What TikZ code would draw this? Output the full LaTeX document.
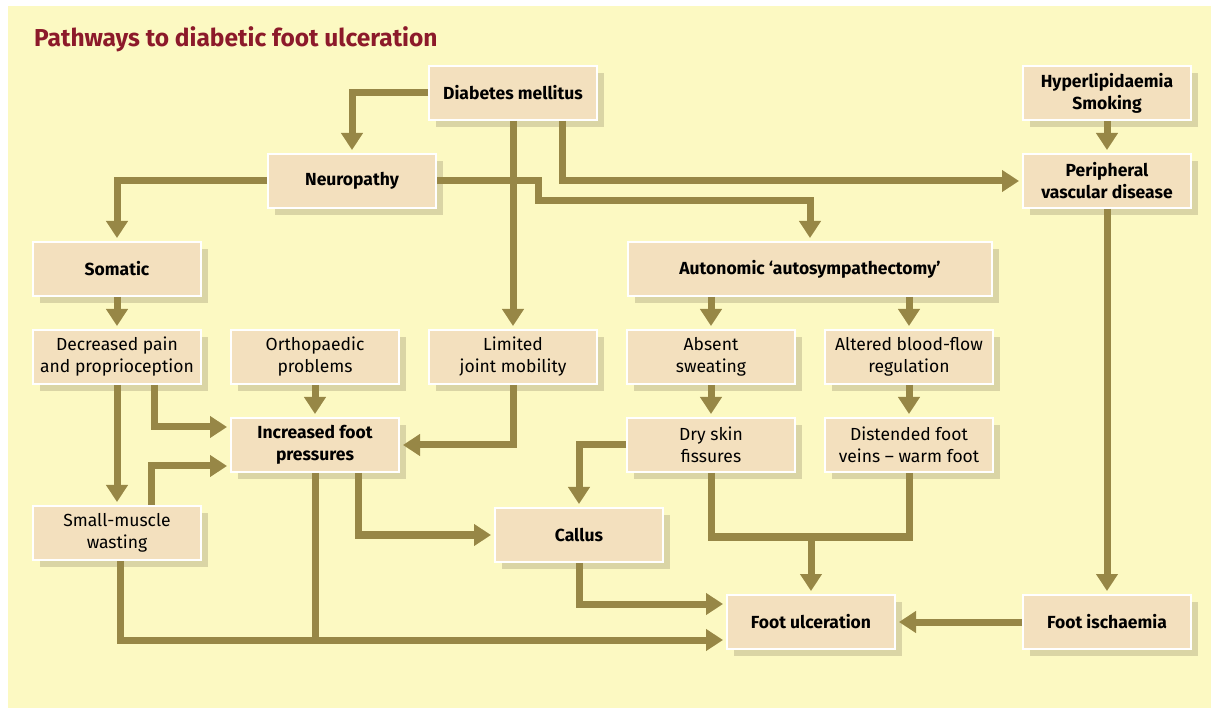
\documentclass[tikz,border=0pt]{standalone}
\usepackage{fontspec}
\setmainfont{Fira Sans}
\usepackage{xcolor}
\usepackage{tikz}
\usetikzlibrary{arrows.meta, positioning, calc, shadows}

\definecolor{bgyellow}{HTML}{FCF9C2}
\definecolor{boxtan}{HTML}{F3E0BE}
\definecolor{boxshadow}{HTML}{DAD5A5}
\definecolor{arrowolive}{HTML}{978746}
\definecolor{titlered}{HTML}{8C1A2A}

\newcommand\boxfont{\fontsize{17.5}{22}\selectfont}

\begin{document}
\begin{tikzpicture}[
    x=1pt, y=-1pt,
    node distance=32pt and 28pt,
    box/.style={rectangle, draw=white, line width=2pt, fill=boxtan, outer sep=1pt, minimum width=168pt, minimum height=54pt, inner sep=1pt, align=center, font=\boxfont, drop shadow={shadow xshift=7pt, shadow yshift=-7pt, fill=boxshadow, opacity=1}},
    keybox/.style={box, font=\boxfont\bfseries},
    link/.style={line width=7pt, draw=arrowolive},
    arrow/.style={link, -{Triangle[width=21pt, length=17pt]}, shorten >=3pt}
]

\useasboundingbox (0,0) rectangle (1211,708);
\fill[bgyellow] (8,6) rectangle (1211,708);

% Title
\node[anchor=base west, inner sep=0pt, text=titlered, font=\fontsize{24.5}{28}\selectfont\bfseries] (title) at (34,47) {Pathways to diabetic foot ulceration};

% Causes
\node[keybox] (diab) at (513,93) {Diabetes mellitus};
\node[keybox] (hyper) at (1107,93) {Hyperlipidaemia\\Smoking};
\node[keybox, below=of hyper] (pvd) {Peripheral\\vascular disease};
\node[keybox] (neuro) at (352,181) {Neuropathy};

% Neuropathy branches
\node[keybox] (somatic) at (117,269) {Somatic};
\node[box, below=of somatic] (decr) {Decreased pain\\and proprioception};
\node[box, right=of decr] (ortho) {Orthopaedic\\problems};
\node[box, right=of ortho] (limited) {Limited\\joint mobility};
\node[box, right=of limited] (absent) {Absent\\sweating};
\node[box, right=of absent] (altered) {Altered blood-flow\\regulation};
\node[keybox, minimum width=364pt, above=of $(absent.north)!0.5!(altered.north)$] (auton) {Autonomic ‘autosympathectomy’};

% Consequences
\node[keybox, below=of ortho] (incr) {Increased foot\\pressures};
\node[box, below=of absent] (dry) {Dry skin\\fissures};
\node[box, below=of altered] (dist) {Distended foot\\veins – warm foot};
\node[box] (small) at (117,533) {Small-muscle\\wasting};
\node[keybox] (callus) at (579,535) {Callus};

% Outcome
\node[keybox] (isch) at (1107,622) {Foot ischaemia};
\node[keybox, left=126pt of isch] (ulcer) {Foot ulceration};

% Connectors
\draw[arrow] (diab.west) -| (neuro.north);
\draw[arrow] (neuro.west) -| (somatic.north);
\draw[arrow] (neuro.east) -| ++(101,20) -| (auton.north);
\draw[arrow] (diab) -- (limited);
\draw[arrow] ([xshift=49pt]diab.south) |- (pvd.west);
\draw[arrow] (hyper) -- (pvd);
\draw[arrow] (pvd) -- (isch);
\draw[arrow] (isch) -- (ulcer);

\draw[arrow] (somatic) -- (decr);
\draw[arrow] (absent |- auton.south) -- (absent);
\draw[arrow] (altered |- auton.south) -- (altered);
\draw[arrow] (absent) -- (dry);
\draw[arrow] (altered) -- (dist);

\draw[arrow] (decr) -- (small);
\draw[arrow] ([xshift=37pt]decr.south) |- ([yshift=18pt]incr.west);
\draw[arrow] ([xshift=34pt]small.north) |- ([yshift=-21pt]incr.west);
\draw[arrow] (ortho) -- (incr);
\draw[arrow] (limited) |- (incr.east);
\draw[arrow] ([xshift=43pt]incr.south) |- (callus.west);
\draw[arrow] (dry.west) -| (callus.north);

\coordinate (merge) at ([yshift=-18pt]ulcer.west);
\draw[arrow] ([xshift=3pt]small.south) |- (merge);
\draw[link] (incr) -- (incr |- merge);
\draw[arrow] (callus) |- ([yshift=18pt]ulcer.west);

\coordinate (veinjoin) at ([yshift=-64pt]dry.south);
\draw[link] (dry.south) -- (veinjoin) -| (dist.south);
\draw[arrow] (ulcer |- veinjoin) -- (ulcer);

\end{tikzpicture}
\end{document}
